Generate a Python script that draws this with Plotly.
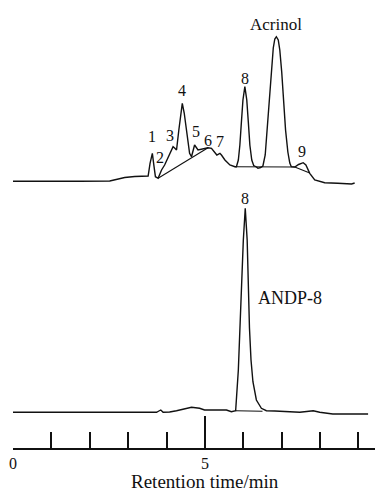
import plotly.graph_objects as go

# ---- Top chromatogram (sample containing Acrinol) : time (min), response (a.u.)
top_time = [0.00, 0.70, 1.74, 2.52, 2.73, 2.91, 3.17, 3.46, 3.52, 3.57, 3.63, 3.67, 3.71,
            3.78, 3.82, 3.87, 3.95, 4.03, 4.13, 4.17, 4.21, 4.26, 4.32, 4.37, 4.41, 4.46,
            4.53, 4.60, 4.65, 4.69, 4.73, 4.82, 4.94, 5.08, 5.17, 5.25, 5.31, 5.39, 5.43,
            5.52, 5.65, 5.78, 5.82, 5.87, 5.91, 5.95, 5.99, 6.04, 6.09, 6.13, 6.17, 6.22,
            6.27, 6.34, 6.38, 6.45, 6.51, 6.57, 6.62, 6.67, 6.73, 6.78, 6.82, 6.86, 6.91,
            6.95, 7.00, 7.05, 7.10, 7.16, 7.21, 7.25, 7.34, 7.44, 7.56, 7.63, 7.73, 7.86,
            7.99, 8.12, 8.46, 8.82, 8.90]
top_signal = [0.0, -0.2, 0.0, 0.3, 2.3, 3.8, 4.8, 5.3, 5.3, 18.0, 28.0, 16.0, 4.6,
              3.0, 7.3, 11.3, 16.3, 23.3, 31.3, 34.6, 33.3, 31.3, 51.3, 69.3, 78.0, 68.3,
              46.3, 28.0, 24.6, 31.3, 36.3, 31.3, 32.3, 33.6, 33.0, 29.6, 26.3, 28.0, 26.3,
              21.3, 16.3, 14.6, 14.6, 21.3, 36.3, 59.3, 81.3, 94.6, 81.3, 59.3, 36.3, 21.3,
              15.8, 14.3, 13.0, 13.8, 15.3, 26.3, 51.3, 81.3, 111.3, 133.3, 142.3, 144.6, 141.3,
              131.3, 109.3, 81.3, 51.3, 29.3, 18.3, 14.6, 14.3, 16.8, 18.6, 16.3, 8.0, 1.3,
              -0.2, -1.4, -2.0, -2.7, -1.7]

# integration baselines drawn under the top peaks
base_a_time = [3.78, 5.08]
base_a_signal = [3.0, 33.6]
base_b_time = [5.78, 7.34]
base_b_signal = [14.6, 14.3]
base_c_time = [7.34, 7.73]
base_c_signal = [14.3, 8.3]

# ---- Bottom chromatogram (ANDP-8)
bot_time = [0.00, 1.22, 2.26, 3.74, 3.80, 3.85, 3.91, 4.08, 4.26, 4.52, 4.65, 4.86, 4.99,
            5.25, 5.56, 5.69, 5.80, 5.87, 5.93, 6.00, 6.05, 6.10, 6.16, 6.20, 6.25, 6.34,
            6.47, 6.60, 6.82, 7.47, 7.65, 7.82, 7.99, 8.33, 9.25]
bot_signal = [0.0, 0.0, -0.2, 0.0, 1.3, 2.3, 0.0, 0.3, 1.6, 4.0, 5.0, 4.0, 2.3,
              2.3, 2.3, 0.6, 1.6, 42.3, 112.3, 172.3, 204.0, 172.3, 84.3, 52.3, 30.6, 12.3,
              4.0, 1.6, 1.3, 0.0, 0.8, 1.6, 0.0, -1.7, -1.7]
bot_base_time = [5.80, 6.50]
bot_base_signal = [1.6, 1.0]

# ---- labels
top_label_text = ["1", "2", "3", "4", "5", "6", "7", "8", "9", "Acrinol"]
top_label_time = [3.61, 3.84, 4.10, 4.41, 4.76, 5.07, 5.39, 6.04, 7.54, 6.86]
top_label_signal = [44.8, 24.3, 46.3, 91.3, 50.3, 41.3, 39.6, 103.3, 29.6, 157.3]
bot_label_text = ["8", "ANDP-8"]
bot_label_time = [6.05, 7.21]
bot_label_signal = [214.3, 114.3]

x_title = "Retention time/min"

INK = "#111111"
FONT = "Liberation Serif"

fig = go.Figure()
line = dict(color=INK, width=1.4)
fig.add_trace(go.Scatter(x=top_time, y=top_signal, mode="lines", line=line, yaxis="y2"))
for bt, bs in [(base_a_time, base_a_signal), (base_b_time, base_b_signal), (base_c_time, base_c_signal)]:
    fig.add_trace(go.Scatter(x=bt, y=bs, mode="lines", line=dict(color=INK, width=1.1), yaxis="y2"))
fig.add_trace(go.Scatter(x=bot_time, y=bot_signal, mode="lines", line=line, yaxis="y"))
fig.add_trace(go.Scatter(x=bot_base_time, y=bot_base_signal, mode="lines",
                         line=dict(color=INK, width=1.1), yaxis="y"))

for t, x, y in zip(top_label_text, top_label_time, top_label_signal):
    fig.add_annotation(x=x, y=y, xref="x", yref="y2", text=t, showarrow=False,
                       font=dict(family=FONT, size=17 if t == "Acrinol" else 16, color=INK))
for t, x, y in zip(bot_label_text, bot_label_time, bot_label_signal):
    fig.add_annotation(x=x, y=y, xref="x", yref="y", text=t, showarrow=False,
                       font=dict(family=FONT, size=18 if t != "8" else 16, color=INK))
fig.add_annotation(x=5.0, y=0, xref="x", yref="paper", yanchor="middle", yshift=-33,
                   text=x_title, showarrow=False, font=dict(family=FONT, size=19, color=INK))

fig.update_layout(
    width=375, height=491,
    margin=dict(l=13, r=0, t=0, b=43),
    paper_bgcolor="white", plot_bgcolor="white",
    showlegend=False,
    xaxis=dict(range=[0, 9.43], showgrid=False, zeroline=False, showline=True,
               linecolor=INK, linewidth=1.5, ticks="inside", ticklen=32, tickwidth=1.5,
               tickcolor=INK, tick0=0, dtick=5, automargin=False,
               minor=dict(ticks="inside", ticklen=16, tickwidth=1.5, tickcolor=INK, dtick=1,
                          showgrid=False),
               tickfont=dict(family=FONT, size=16, color=INK), fixedrange=True),
    yaxis=dict(range=[-35.7, 412.3], visible=False, fixedrange=True, automargin=False),
    yaxis2=dict(range=[-266.7, 181.3], visible=False, overlaying="y", fixedrange=True,
                automargin=False),
)

fig.write_html("out.html", config={"displayModeBar": False},
               post_script="document.body.style.margin='0';")
